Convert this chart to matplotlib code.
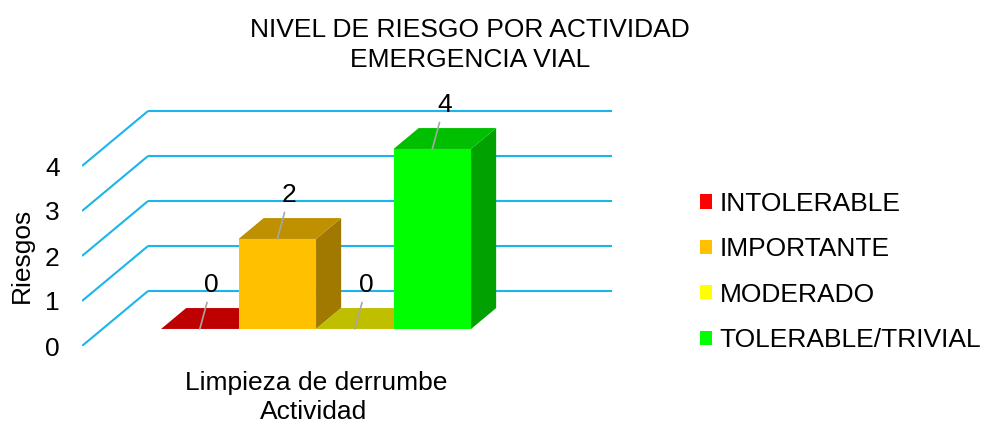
import numpy as np
import matplotlib
matplotlib.use("Agg")
import matplotlib.pyplot as plt
from matplotlib.patches import Polygon, Patch
from matplotlib.colors import to_rgb

plt.rcParams.update({
    "font.family": ["Liberation Sans", "DejaVu Sans"],
    "font.size": 19,
})

# ---------------- data ----------------
title_lines = ["NIVEL DE RIESGO POR ACTIVIDAD", "EMERGENCIA VIAL"]
activity = "Limpieza de derrumbe"
levels = ["INTOLERABLE", "IMPORTANTE", "MODERADO", "TOLERABLE/TRIVIAL"]
values = [0, 2, 0, 4]
colors = ["#FF0000", "#FFC000", "#FFFF00", "#00FF00"]
yticks = [0, 1, 2, 3, 4]
x_title = "Actividad"
y_title = "Riesgos"

# ---------------- pseudo-3D geometry (axis units) ----------------
DX, DY = 0.852, 1.222      # full depth offset
D0, D1 = 0.31, 0.69        # bar front/back depth fraction
GAP = 0.756                # first bar start
WALL_END = 6.84
GRID_C = "#1CB5EB"

def shade(c, f):
    r, g, b = to_rgb(c)
    return (r * f, g * f, b * f)

def pt(x, v, d):
    return (x + d * DX, v + d * DY)

fig = plt.figure(figsize=(9.88, 4.25), dpi=100)
ax = fig.add_axes([82 / 988, 79 / 425, 542.5 / 988, 292.5 / 425])
ax.set_xlim(0, 7)
ax.set_ylim(0, 6.5)
for s in ax.spines.values():
    s.set_visible(False)

# back wall and side wall grid lines
for g in yticks:
    ax.plot([0, DX], [g, g + DY], color=GRID_C, lw=1.5, solid_capstyle="butt")
    ax.plot([DX, WALL_END], [g + DY, g + DY], color=GRID_C, lw=1.5, solid_capstyle="butt")

# bars
for i, (v, c) in enumerate(zip(values, colors)):
    x0 = GAP + i
    x1 = x0 + 1
    if v > 0:
        side = [pt(x1, 0, D0), pt(x1, 0, D1), pt(x1, v, D1), pt(x1, v, D0)]
        ax.add_patch(Polygon(side, closed=True, fc=shade(c, 0.63), ec="none", zorder=3))
    top = [pt(x0, v, D0), pt(x1, v, D0), pt(x1, v, D1), pt(x0, v, D1)]
    ax.add_patch(Polygon(top, closed=True, fc=shade(c, 0.75), ec="none", zorder=3))
    if v > 0:
        front = [pt(x0, 0, D0), pt(x1, 0, D0), pt(x1, v, D0), pt(x0, v, D0)]
        ax.add_patch(Polygon(front, closed=True, fc=c, ec="none", zorder=3))
    ax.annotate(str(v), xy=pt(x0 + 0.5, v, D0), xytext=(12, 44),
                textcoords="offset pixels", ha="center", va="center", fontsize=19,
                zorder=5,
                arrowprops=dict(arrowstyle="-", color="#A6A6A6", lw=1.2,
                                shrinkA=2, shrinkB=0))

# axes ticks / labels
ax.set_yticks(yticks)
ax.set_yticklabels([str(t) for t in yticks])
ax.tick_params(axis="y", length=0, pad=16)
center = GAP + len(values) / 2 + D0 * DX
ax.set_xticks([center])
ax.set_xticklabels([activity])
ax.tick_params(axis="x", length=0, pad=18)
ax.set_xlabel(x_title)
ax.xaxis.set_label_coords(0.426, -0.185)
ax.set_ylabel(y_title)
ax.yaxis.set_label_coords(-0.088, 0.31)

fig.text(470 / 988, 1 - 45 / 425, "\n".join(title_lines), ha="center", va="center",
         fontsize=19, linespacing=1.35)

handles = [Patch(fc=c, ec="none") for c in colors]
fig.legend(handles, levels, loc="center left", bbox_to_anchor=(700 / 988, 1 - 272 / 425),
           frameon=False, handlelength=0.45, handleheight=0.45, handletextpad=0.3,
           labelspacing=0.81, borderpad=0, borderaxespad=0, fontsize=19)

fig.savefig("out.png", dpi=100)
